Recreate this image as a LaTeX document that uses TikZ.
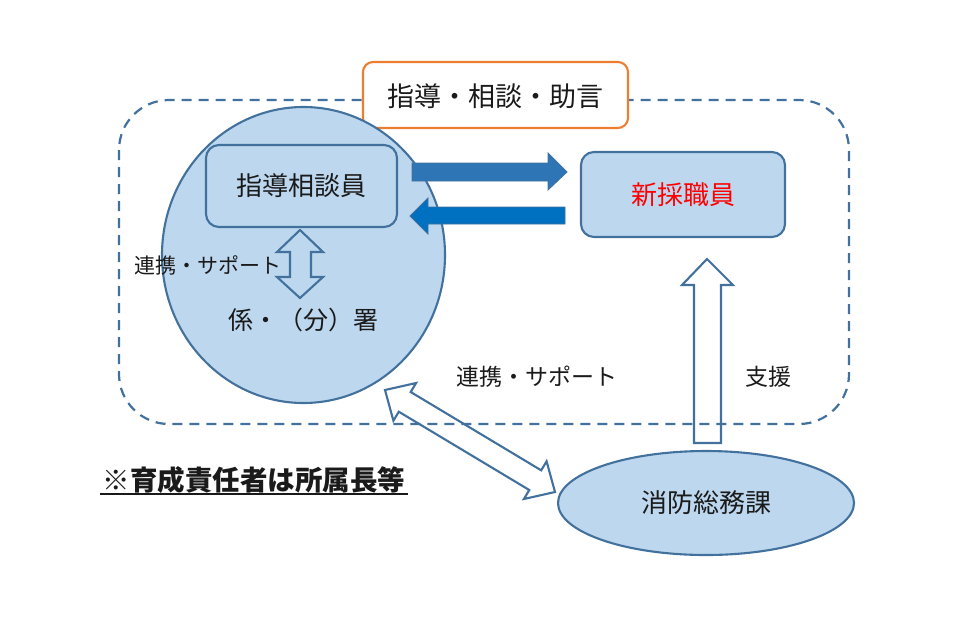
\documentclass[tikz,border=0pt]{standalone}
\usepackage{fontspec}
\usetikzlibrary{shapes.geometric}
\setmainfont{Noto Sans CJK JP}
\definecolor{lblue}{HTML}{BDD7EE}
\definecolor{sblue}{HTML}{41719C}
\definecolor{arrA}{HTML}{2E75B6}
\definecolor{arrB}{HTML}{0070C0}
\definecolor{orng}{HTML}{ED7D31}
\definecolor{txt}{HTML}{1A1A1A}
\tikzset{
  fs/.style={font=\fontsize{#1}{#1}\selectfont},
  shp/.style={draw=sblue,line width=2.1pt,fill=lblue},
  hollow/.style={draw=sblue,line width=2.1pt,fill=white},
  lbl/.style={inner sep=0pt,text=txt},
}
\begin{document}
\begin{tikzpicture}[x=1pt,y=-1pt]
\useasboundingbox (0,0) rectangle (963,625);
% hollow arrows
\draw[hollow] (707,259) -- (733,285) -- (721,285) -- (721,443) -- (694,443) -- (694,285) -- (682,285) -- cycle;
\draw[hollow] (385,390) -- (416.1,383.0) -- (410.7,392.0) -- (541.2,470.3) -- (546.6,461.3) -- (555,492) -- (523.9,499.0) -- (529.3,490.0) -- (398.8,411.7) -- (393.4,420.7) -- cycle;
% dashed region
\draw[sblue,line width=2.2pt,dash pattern=on 10pt off 7pt,rounded corners=50pt] (119,100) rectangle (849,424);
% orange box
\node[draw=orng,line width=2.1pt,fill=white,rounded corners=10pt,minimum width=265pt,minimum height=66pt,inner sep=0pt] (guide) at (495.5,95) {};
\node[lbl,fs=27] (guidet) at (495.5,96) {指導・相談・助言};
% big circle
\node[shp,ellipse,minimum width=283pt,minimum height=296pt,inner sep=0pt] (sho) at (303.5,255) {};
\node[shp,rounded corners=13pt,minimum width=191pt,minimum height=82pt,inner sep=0pt] (shido) at (301.5,186) {};
\node[lbl,fs=26] (shidot) at (301.5,186) {指導相談員};
% new staff
\node[shp,rounded corners=13pt,minimum width=204pt,minimum height=85pt,inner sep=0pt] (shin) at (683,194.5) {};
\node[lbl,fs=26,text=red] (shint) at (683,194.5) {新採職員};
% thick arrows
\draw[draw=sblue,line width=0.8pt,fill=arrA] (412,163) -- (548,163) -- (548,153) -- (567,172) -- (548,190) -- (548,181) -- (412,181) -- cycle;
\draw[draw=sblue,line width=0.8pt,fill=arrB] (565,207) -- (428,207) -- (428,198) -- (410,216) -- (428,234) -- (428,224) -- (565,224) -- cycle;
% vertical double arrow
\draw[shp] (300,230) -- (323,252) -- (311,252) -- (311,277) -- (323,277) -- (300,298) -- (277,277) -- (290,277) -- (290,252) -- (277,252) -- cycle;
\node[lbl,fs=21] (renkei1) at (208,265) {連携・サポート};
\node[lbl,fs=25] (kakari) at (303,320) {係・（分）署};
\node[lbl,fs=23] (renkei2) at (537,377) {連携・サポート};
\node[lbl,fs=23] (shien) at (768,377) {支援};
% note
\node[lbl,font=\bfseries\fontsize{27.5}{27.5}\selectfont] (note) at (254,480) {※育成責任者は所属長等};
\draw[txt,line width=1.4pt] (100,494) -- (408,494);
% soumu
\node[shp,ellipse,minimum width=296pt,minimum height=104pt,inner sep=0pt] (soumu) at (706,503) {};
\node[lbl,fs=26] (soumut) at (706,503) {消防総務課};
\end{tikzpicture}
\end{document}
